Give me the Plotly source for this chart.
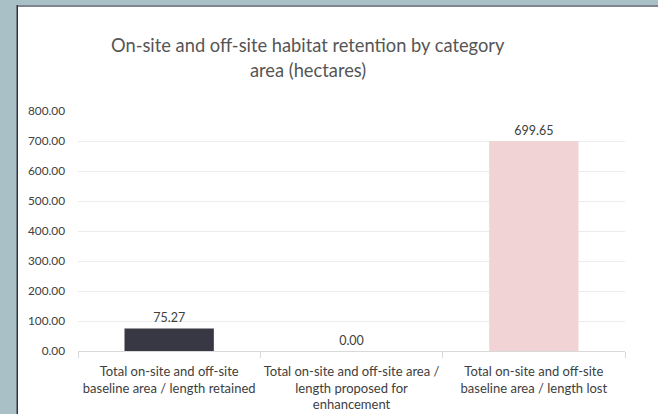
import plotly.graph_objects as go

categories = [
    "Total on-site and off-site<br>baseline area / length retained",
    "Total on-site and off-site area /<br>length proposed for<br>enhancement",
    "Total on-site and off-site<br>baseline area / length lost",
]
values = [75.27, 0.00, 699.65]
bar_colors = ["#383845", "#e6e6e6", "#f2d3d5"]
tick_vals = [0, 100, 200, 300, 400, 500, 600, 700, 800]
title_lines = ["On-site and off-site habitat retention by category", "area (hectares)"]

W, H = 658, 414
L, R, T, B = 78, 33, 111, 63
pw, ph = W - L - R, H - T - B
BG = "#a8c0c6"

def px(x):
    return (x - L) / pw

def py(y):
    return (H - B - y) / ph

fig = go.Figure()
fig.add_trace(go.Bar(
    x=categories,
    y=values,
    marker=dict(color=bar_colors, line=dict(width=0)),
    width=0.49,
    text=[f"{v:.2f}" for v in values],
    textposition="outside",
    textfont=dict(family="Lato", size=12.5, color="#404040"),
    cliponaxis=False,
))

shapes = [
    dict(type="rect", xref="paper", yref="paper", x0=px(17), x1=px(680), y0=py(5), y1=py(430),
         fillcolor="white", line=dict(width=0), layer="below"),
    dict(type="rect", xref="paper", yref="paper", x0=px(17), x1=px(680), y0=py(5), y1=py(7),
         fillcolor="#7e8490", line=dict(width=0), layer="below"),
    dict(type="rect", xref="paper", yref="paper", x0=px(16.5), x1=px(18), y0=py(5), y1=py(430),
         fillcolor="#2e3440", line=dict(width=0), layer="below"),
]

annotations = [
    dict(text=title_lines[0], xref="paper", yref="paper", x=px(307.5), y=py(45), showarrow=False,
         xanchor="center", yanchor="middle", font=dict(family="Lato", size=18.3, color="#555555")),
    dict(text=title_lines[1], xref="paper", yref="paper", x=px(307.5), y=py(70), showarrow=False,
         xanchor="center", yanchor="middle", font=dict(family="Lato", size=18.3, color="#555555")),
]

fig.update_layout(
    width=W, height=H,
    margin=dict(l=L, r=R, t=T, b=B, pad=0, autoexpand=False),
    paper_bgcolor=BG,
    plot_bgcolor="rgba(0,0,0,0)",
    showlegend=False,
    shapes=shapes,
    annotations=annotations,
    bargap=0.51,
    xaxis=dict(
        type="category",
        showgrid=False,
        showline=True, linecolor="#d9d9d9", linewidth=1,
        ticks="outside", tickson="boundaries", ticklen=6, tickcolor="#d9d9d9",
        tickfont=dict(family="Lato", size=13, color="#404040"),
        tickangle=0,
        automargin=False,
        ticklabelstandoff=8,
        zeroline=False,
    ),
    yaxis=dict(
        range=[0, 800],
        tickvals=tick_vals,
        tickformat=".2f",
        showgrid=True, gridcolor="#ececec", gridwidth=1,
        zeroline=False,
        showline=False,
        ticks="",
        automargin=False,
        tickfont=dict(family="Lato", size=11.8, color="#404040"),
        ticklabelstandoff=12,
    ),
)

fig.write_html(
    "out.html",
    config={"displayModeBar": False},
    post_script=(
        "document.body.style.margin='0';"
        "document.body.style.overflow='hidden';"
        "document.documentElement.style.overflow='hidden';"
        "document.body.style.background='" + BG + "';"
    ),
)
